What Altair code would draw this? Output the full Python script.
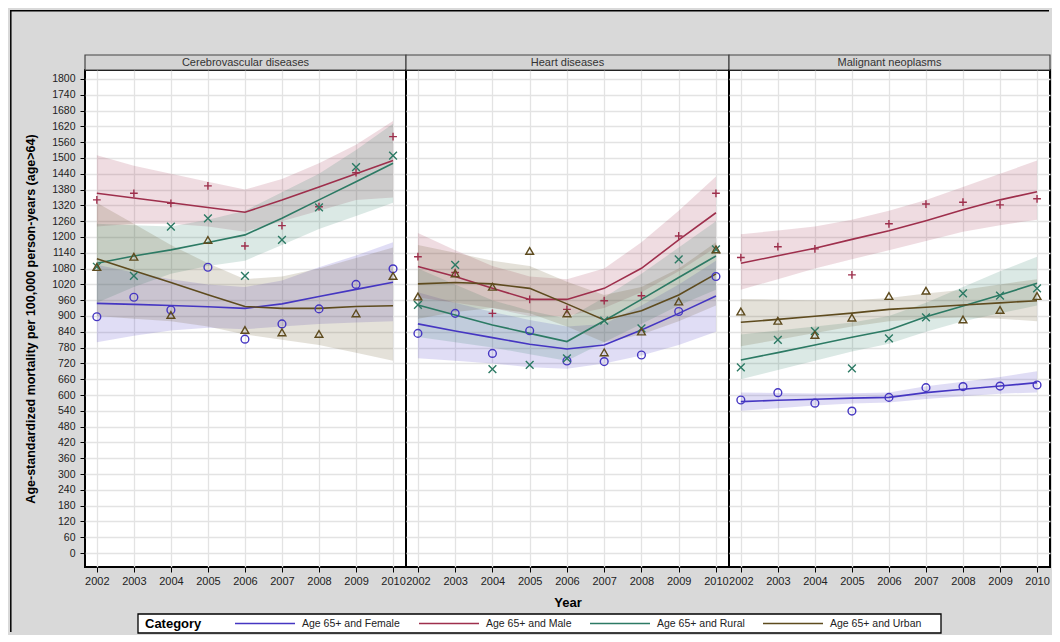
import altair as alt
import pandas as pd

years = [2002, 2003, 2004, 2005, 2006, 2007, 2008, 2009, 2010]
panels = ["Cerebrovascular diseases", "Heart diseases", "Malignant neoplasms"]
categories = ["Age 65+ and Female", "Age 65+ and Male", "Age 65+ and Rural", "Age 65+ and Urban"]
colors = ["#4536C2", "#9E2F4C", "#2C7A64", "#5E4B1E"]
shapes = ["circle", "M-1,0L1,0M0,-1L0,1", "M-1,-1L1,1M-1,1L1,-1", "triangle-up"]
y_ticks = list(range(0, 1801, 60))

# observed values per category (order of `categories`)
cereb_obs = [
    [897, 971, 923, 1085, 812, 870, 927, 1020, 1079],
    [1341, 1366, 1328, 1394, 1166, 1243, 1315, 1444, 1581],
    [1087, 1052, 1239, 1271, 1052, 1189, 1312, 1465, 1509],
    [1086, 1125, 904, 1189, 847, 838, 832, 910, 1052],
]
cereb_fit = [
    [948, 944, 940, 935, 929, 946, 974, 1001, 1028],
    [1366, 1348, 1330, 1312, 1294, 1340, 1390, 1440, 1490],
    [1100, 1128, 1151, 1179, 1208, 1271, 1341, 1410, 1480],
    [1117, 1072, 1027, 981, 936, 929, 929, 936, 939],
]
cereb_lo = [
    [800, 825, 845, 855, 850, 860, 870, 875, 880],
    [1240, 1250, 1250, 1240, 1220, 1260, 1300, 1340, 1350],
    [950, 1010, 1060, 1090, 1110, 1170, 1230, 1280, 1330],
    [900, 890, 880, 860, 830, 810, 790, 760, 730],
]
cereb_hi = [
    [1095, 1065, 1040, 1020, 1010, 1035, 1085, 1130, 1180],
    [1510, 1470, 1440, 1410, 1380, 1420, 1480, 1550, 1640],
    [1250, 1245, 1240, 1265, 1300, 1370, 1440, 1530, 1630],
    [1330, 1250, 1170, 1100, 1040, 1050, 1080, 1120, 1160],
]

heart_obs = [
    [834, 910, 758, 844, 729, 727, 752, 917, 1050],
    [1125, 1065, 910, 963, 925, 958, 977, 1204, 1366],
    [942, 1094, 698, 714, 739, 882, 853, 1115, 1153],
    [974, 1062, 1011, 1147, 910, 762, 841, 955, 1153],
]
heart_fit = [
    [870, 843, 818, 793, 775, 790, 847, 910, 976],
    [1088, 1050, 1005, 963, 963, 1005, 1081, 1189, 1292],
    [942, 904, 866, 834, 803, 882, 963, 1046, 1128],
    [1022, 1027, 1022, 1005, 946, 885, 920, 980, 1060],
]
heart_lo = [
    [740, 730, 720, 705, 700, 720, 750, 790, 840],
    [970, 950, 930, 900, 900, 930, 990, 1070, 1160],
    [820, 800, 780, 755, 730, 800, 870, 940, 1000],
    [890, 915, 930, 910, 860, 800, 830, 880, 940],
]
heart_hi = [
    [990, 950, 915, 885, 860, 870, 940, 1020, 1110],
    [1215, 1150, 1090, 1050, 1040, 1080, 1180, 1300, 1430],
    [1080, 1020, 960, 920, 890, 970, 1060, 1160, 1260],
    [1170, 1140, 1110, 1090, 1030, 980, 1010, 1080, 1180],
]

malig_obs = [
    [581, 609, 569, 539, 591, 628, 632, 634, 638],
    [1122, 1163, 1155, 1056, 1250, 1325, 1332, 1322, 1345],
    [705, 809, 843, 701, 815, 895, 986, 977, 1005],
    [917, 882, 828, 894, 976, 996, 887, 923, 976],
]
malig_fit = [
    [575, 580, 584, 588, 591, 609, 622, 634, 647],
    [1100, 1129, 1157, 1191, 1224, 1262, 1303, 1341, 1372],
    [733, 761, 790, 819, 847, 897, 938, 980, 1024],
    [876, 887, 899, 911, 925, 933, 942, 950, 958],
]
malig_lo = [
    [540, 550, 560, 568, 572, 585, 595, 605, 610],
    [1000, 1040, 1080, 1115, 1150, 1185, 1220, 1245, 1265],
    [660, 695, 730, 765, 795, 840, 880, 910, 940],
    [785, 810, 835, 860, 880, 890, 895, 890, 880],
]
malig_hi = [
    [610, 608, 606, 607, 610, 633, 650, 668, 690],
    [1210, 1225, 1240, 1265, 1300, 1340, 1390, 1440, 1490],
    [830, 845, 860, 875, 900, 950, 1010, 1070, 1125],
    [965, 962, 960, 960, 968, 985, 1000, 1020, 1040],
]

panel_data = {
    panels[0]: (cereb_obs, cereb_fit, cereb_lo, cereb_hi),
    panels[1]: (heart_obs, heart_fit, heart_lo, heart_hi),
    panels[2]: (malig_obs, malig_fit, malig_lo, malig_hi),
}

rows = []
for p, (obs, fit, lo, hi) in panel_data.items():
    for ci, cat in enumerate(categories):
        for yi, yr in enumerate(years):
            rows.append({"panel": p, "category": cat, "year": yr,
                         "obs": obs[ci][yi], "fit": fit[ci][yi],
                         "lo": lo[ci][yi], "hi": hi[ci][yi]})
df = pd.DataFrame(rows)

FONT = "Liberation Sans, Arial, sans-serif"
WIDTHS = [321, 323, 321]
H = 497
xscale = alt.Scale(domain=[2001.68, 2010.35], nice=False, zero=False)
yscale = alt.Scale(domain=[-53, 1834], nice=False, zero=False)
cscale = alt.Scale(domain=categories, range=colors)

# legend layout (pixels relative to the first panel's plot area)
LEG_BOX = (53, 856, 544, 563)
LEG_ENTRY_X = [150, 334, 505, 678]
LEG_LINE_LEN = 60


def legend_layers():
    one = pd.DataFrame({"t": ["Category"]})
    x0, x1, y0, y1 = LEG_BOX
    ym = (y0 + y1) / 2
    out = [
        alt.Chart(one).mark_rect(fill="white", stroke="black", strokeWidth=1.3).encode(
            x=alt.value(x0), x2=alt.value(x1), y=alt.value(y0), y2=alt.value(y1)),
        alt.Chart(one).mark_text(font=FONT, fontSize=13, fontWeight="bold", color="black",
                                 align="left", baseline="middle").encode(
            x=alt.value(x0 + 7), y=alt.value(ym + 0.5), text="t:N"),
    ]
    for cat, col, ex in zip(categories, colors, LEG_ENTRY_X):
        cdf = pd.DataFrame({"t": [cat]})
        out.append(alt.Chart(cdf).mark_rule(color=col, strokeWidth=1.5).encode(
            x=alt.value(ex), x2=alt.value(ex + LEG_LINE_LEN), y=alt.value(ym)))
        out.append(alt.Chart(cdf).mark_text(font=FONT, fontSize=10.5, color="#222",
                                            align="left", baseline="middle").encode(
            x=alt.value(ex + LEG_LINE_LEN + 7), y=alt.value(ym + 0.5), text="t:N"))
    return out


def make_panel(i, name):
    W = WIDTHS[i]
    d = df[df.panel == name]
    xaxis = alt.Axis(values=years, format="d", title="Year" if i == 1 else None,
                     grid=True, domain=False, tickSize=5, tickColor="black",
                     labelFontSize=11, labelPadding=3, labelColor="#222",
                     labelOverlap=False,
                     titleFontSize=13, titleFontWeight="bold", titleColor="black",
                     titlePadding=10, labelFont=FONT, titleFont=FONT)
    if i == 0:
        yaxis = alt.Axis(values=y_ticks, format="d", grid=True, domain=False, tickSize=5,
                         tickColor="black", labelFontSize=10.5, labelPadding=5,
                         labelColor="#222", labelFont=FONT, labelOverlap=False,
                         title="Age-standardized mortality per 100,000 person-years (age>64)",
                         titleFontSize=12.5, titleFontWeight="bold", titleColor="black",
                         titlePadding=14, titleFont=FONT)
    else:
        yaxis = alt.Axis(values=y_ticks, grid=True, domain=False, ticks=False,
                         labels=False, title=None)
    x = alt.X("year:Q", scale=xscale, axis=xaxis)
    color = alt.Color("category:N", scale=cscale, legend=None)
    band = alt.Chart(d).mark_area(opacity=0.17).encode(
        x=x,
        y=alt.Y("lo:Q", scale=yscale, axis=yaxis),
        y2="hi:Q",
        color=color,
        detail="category:N",
    )
    line = alt.Chart(d).mark_line(strokeWidth=1.6).encode(
        x=x,
        y=alt.Y("fit:Q", scale=yscale, axis=yaxis),
        color=color,
        order="year:Q",
    )
    pts = alt.Chart(d).mark_point(filled=False, size=60, strokeWidth=1.4, opacity=1).encode(
        x=x,
        y=alt.Y("obs:Q", scale=yscale, axis=yaxis),
        color=color,
        shape=alt.Shape("category:N", scale=alt.Scale(domain=categories, range=shapes), legend=None),
    )
    hdr_df = pd.DataFrame({"label": [name]})
    hdr = alt.Chart(hdr_df).mark_rect(fill="#d3d3d3", stroke="#444", strokeWidth=1.2).encode(
        x=alt.value(0), x2=alt.value(W), y=alt.value(-15), y2=alt.value(0))
    hdr_txt = alt.Chart(hdr_df).mark_text(fontSize=11, color="#333", font=FONT,
                                          baseline="middle", align="center").encode(
        x=alt.value(W / 2), y=alt.value(-7.5), text="label:N")
    layers = [band, line, pts, hdr, hdr_txt]
    if i == 0:
        vborder = alt.Chart(hdr_df).mark_rule(color="black", strokeWidth=1.5).encode(
            x=alt.value(-74.2), y=alt.value(-60), y2=alt.value(562))
        hborder = alt.Chart(hdr_df).mark_rule(color="black", strokeWidth=1.5).encode(
            x=alt.value(-75), x2=alt.value(964), y=alt.value(-59.2))
        layers += [vborder, hborder] + legend_layers()
    return alt.layer(*layers).properties(width=W, height=H)


chart = alt.hconcat(*[make_panel(i, p) for i, p in enumerate(panels)],
                    spacing=0, bounds="flush").properties(padding=0).configure(
    background="#d9d9d9", font=FONT
).configure_view(fill="white", stroke="black", strokeWidth=2).configure_axis(
    gridColor="#e3e3e3", gridWidth=1.3
)

chart.save("out.html", embed_options={"renderer": "svg", "actions": False})
